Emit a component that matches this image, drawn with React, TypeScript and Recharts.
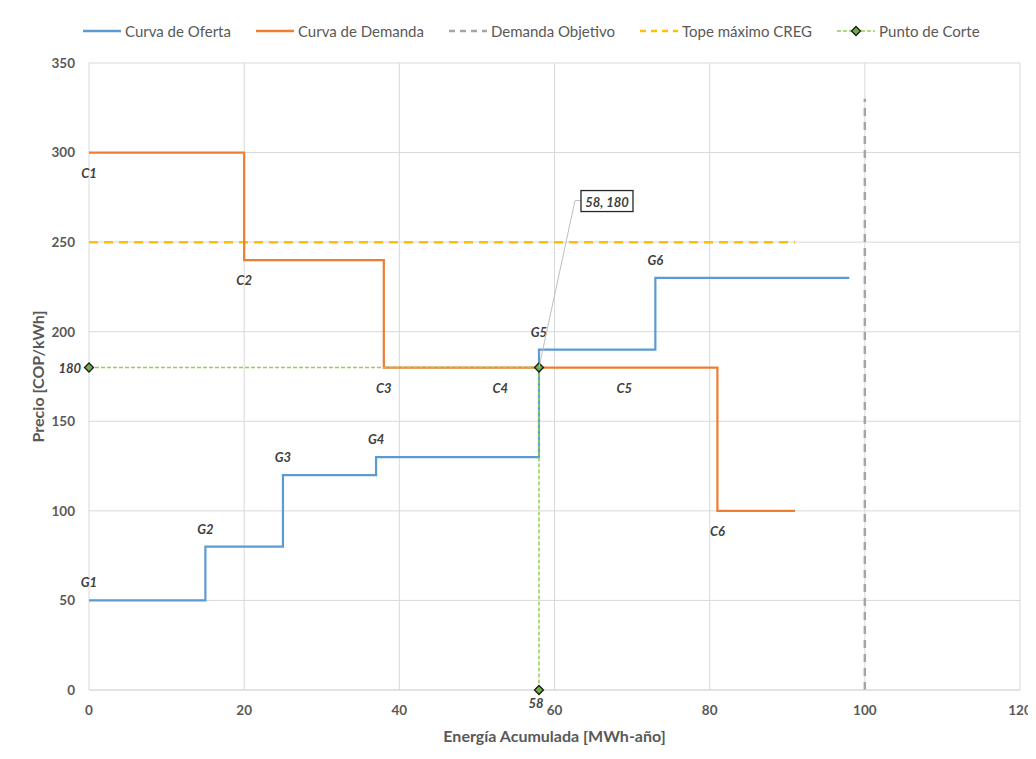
import {
  ComposedChart,
  Line,
  Scatter,
  XAxis,
  YAxis,
  CartesianGrid,
} from 'recharts';

// Curves (x = accumulated energy, y = price)
const supplyCurve = [
  { x: 0, y: 50 },
  { x: 15, y: 80 },
  { x: 25, y: 120 },
  { x: 37, y: 130 },
  { x: 58, y: 190 },
  { x: 73, y: 230 },
  { x: 98, y: 230 },
];

const demandCurve = [
  { x: 0, y: 300 },
  { x: 20, y: 240 },
  { x: 38, y: 180 },
  { x: 81, y: 100 },
  { x: 91, y: 100 },
];

const targetDemand = [
  { x: 100, y: 0 },
  { x: 100, y: 330 },
];

const cregCap = [
  { x: 0, y: 250 },
  { x: 91, y: 250 },
];

const cutPoint = [
  { x: 0, y: 180 },
  { x: 58, y: 180 },
  { x: 58, y: 0 },
];

const supplyLabels = [
  { x: 0, y: 50, label: 'G1' },
  { x: 15, y: 80, label: 'G2' },
  { x: 25, y: 120, label: 'G3' },
  { x: 37, y: 130, label: 'G4' },
  { x: 58, y: 190, label: 'G5' },
  { x: 73, y: 230, label: 'G6' },
];

const demandLabels = [
  { x: 0, y: 300, label: 'C1' },
  { x: 20, y: 240, label: 'C2' },
  { x: 38, y: 180, label: 'C3' },
  { x: 53, y: 180, label: 'C4' },
  { x: 69, y: 180, label: 'C5' },
  { x: 81, y: 100, label: 'C6' },
];

const cutLabels = [
  { x: 0, y: 180, kind: 'y' },
  { x: 58, y: 0, kind: 'x' },
  { x: 58, y: 180, kind: 'xy' },
];

const xTicks = [0, 20, 40, 60, 80, 100, 120];
const yTicks = [0, 50, 100, 150, 200, 250, 300, 350];

const FONT = 'Lato, "Open Sans", sans-serif';
const TEXT = '#595959';
const LABEL = '#404040';

const BLUE = '#5b9bd5';
const ORANGE = '#ed7d31';
const GRAY = '#a5a5a5';
const GOLD = '#ffc000';
const GREEN = '#92d050';

const legendItems = [
  { name: 'Curva de Oferta', color: BLUE, dash: undefined, diamond: false },
  { name: 'Curva de Demanda', color: ORANGE, dash: undefined, diamond: false },
  { name: 'Demanda Objetivo', color: GRAY, dash: '6 5', diamond: false },
  { name: 'Tope máximo CREG', color: GOLD, dash: '6 5', diamond: false },
  { name: 'Punto de Corte', color: GREEN, dash: '4 2', diamond: true },
];

const Diamond = ({ cx, cy }: { cx: number; cy: number }) => (
  <path
    d={`M${cx},${cy - 4.5}L${cx + 4.5},${cy}L${cx},${cy + 4.5}L${cx - 4.5},${cy}Z`}
    fill="#70ad47"
    stroke="#1a1a1a"
    strokeWidth={1.3}
  />
);

const labelStyle = {
  fontFamily: FONT,
  fontSize: 13,
  fontStyle: 'italic' as const,
  fontWeight: 700,
  fill: LABEL,
};

const SupplyLabel = (props: any) => (
  <text x={props.cx} y={props.cy - 18} textAnchor="middle" dominantBaseline="central" {...labelStyle}>
    {props.payload.label}
  </text>
);

const DemandLabel = (props: any) => (
  <text x={props.cx} y={props.cy + 20} textAnchor="middle" dominantBaseline="central" {...labelStyle}>
    {props.payload.label}
  </text>
);

const CutLabel = (props: any) => {
  const { cx, cy, payload } = props;
  if (payload.kind === 'y') {
    return (
      <text x={cx - 8} y={cy} textAnchor="end" dominantBaseline="central" {...labelStyle}>
        {payload.y}
      </text>
    );
  }
  if (payload.kind === 'x') {
    return (
      <text x={cx - 3} y={cy + 13} textAnchor="middle" dominantBaseline="central" {...labelStyle}>
        {payload.x}
      </text>
    );
  }
  // callout box with leader line
  return (
    <g>
      <polyline
        points={`${cx},${cy} ${cx + 36},${cy - 167} ${cx + 42},${cy - 167}`}
        fill="none"
        stroke="#bfbfbf"
        strokeWidth={1}
      />
      <rect x={cx + 42} y={cy - 177} width={52} height={21} fill="#fff" stroke="#262626" strokeWidth={1.3} />
      <text x={cx + 68} y={cy - 166} textAnchor="middle" dominantBaseline="central" {...labelStyle}>
        {`${payload.x}, ${payload.y}`}
      </text>
    </g>
  );
};

const Legend = () => (
  <div
    style={{
      position: 'absolute',
      top: 14,
      left: 74,
      display: 'flex',
      alignItems: 'center',
      fontFamily: FONT,
      fontSize: 15,
      color: TEXT,
      whiteSpace: 'nowrap',
    }}
  >
    {legendItems.map((item) => (
      <div key={item.name} style={{ display: 'flex', alignItems: 'center', marginRight: 24 }}>
        <svg width={40} height={14} style={{ marginRight: 3 }}>
          <line
            x1={1}
            y1={7}
            x2={39}
            y2={7}
            stroke={item.color}
            strokeWidth={item.diamond ? 1.5 : 2.5}
            strokeDasharray={item.dash}
          />
          {item.diamond && <Diamond cx={20} cy={7} />}
        </svg>
        <span>{item.name}</span>
      </div>
    ))}
  </div>
);

export default function App() {
  return (
    <div
      style={{
        position: 'relative',
        width: 1028,
        height: 744,
        marginLeft: -1,
        marginTop: -1,
        borderLeft: '1px solid #d9d9d9',
        borderTop: '1px solid #d9d9d9',
        background: '#fff',
      }}
    >
      <Legend />
      <ComposedChart width={1028} height={744} margin={{ top: 55, right: 16, bottom: 0, left: 0 }}>
        <CartesianGrid stroke="#d9d9d9" strokeWidth={1} />
        <XAxis
          type="number"
          dataKey="x"
          domain={[0, 120]}
          ticks={xTicks}
          height={62}
          axisLine={{ stroke: '#d9d9d9' }}
          tickLine={false}
          tickMargin={9}
          tick={{ fontFamily: FONT, fontSize: 13.5, fill: TEXT, fontWeight: 700 }}
          label={{
            value: 'Energía Acumulada [MWh-año]',
            position: 'insideBottom',
            offset: 10,
            style: { fontFamily: FONT, fontSize: 16, fontWeight: 700, fill: TEXT },
          }}
        />
        <YAxis
          type="number"
          dataKey="y"
          domain={[0, 350]}
          ticks={yTicks}
          width={81}
          axisLine={false}
          tickLine={false}
          tickMargin={8}
          tick={{ fontFamily: FONT, fontSize: 13.5, fill: TEXT, fontWeight: 700 }}
          label={{
            value: 'Precio [COP/kWh]',
            angle: -90,
            position: 'insideLeft',
            offset: 30,
            style: { fontFamily: FONT, fontSize: 16, fontWeight: 700, fill: TEXT, textAnchor: 'middle' },
          }}
        />

        <Line
          data={targetDemand}
          dataKey="y"
          type="linear"
          stroke={GRAY}
          strokeWidth={2.5}
          strokeDasharray="8 6"
          dot={false}
          isAnimationActive={false}
        />
        <Line
          data={cregCap}
          dataKey="y"
          type="linear"
          stroke={GOLD}
          strokeWidth={2.5}
          strokeDasharray="9 6"
          dot={false}
          isAnimationActive={false}
        />
        <Line
          data={demandCurve}
          dataKey="y"
          type="stepAfter"
          stroke={ORANGE}
          strokeWidth={2.2}
          dot={false}
          isAnimationActive={false}
        />
        <Line
          data={supplyCurve}
          dataKey="y"
          type="stepAfter"
          stroke={BLUE}
          strokeWidth={2.2}
          dot={false}
          isAnimationActive={false}
        />
        <Line
          data={cutPoint}
          dataKey="y"
          type="linear"
          stroke={GREEN}
          strokeWidth={1.5}
          strokeDasharray="4 2"
          dot={(p: any) => <Diamond key={`d-${p.index}`} cx={p.cx} cy={p.cy} />}
          isAnimationActive={false}
        />

        <Scatter data={supplyLabels} shape={SupplyLabel} isAnimationActive={false} />
        <Scatter data={demandLabels} shape={DemandLabel} isAnimationActive={false} />
        <Scatter data={cutLabels} shape={CutLabel} isAnimationActive={false} />
      </ComposedChart>
    </div>
  );
}
